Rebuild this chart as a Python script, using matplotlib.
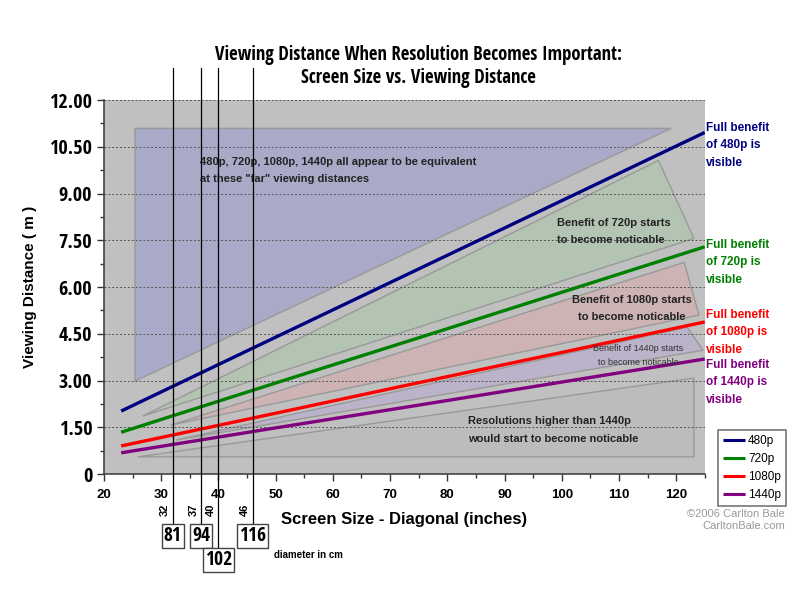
import matplotlib
matplotlib.use("Agg")
import matplotlib.pyplot as plt
from matplotlib.lines import Line2D
from matplotlib.patches import Polygon
from matplotlib import transforms, font_manager

plt.rcParams['font.family'] = ['Liberation Sans', 'DejaVu Sans']


def _weight(f):
    w = f.weight
    return w if isinstance(w, int) else font_manager.weight_dict.get(str(w).lower(), 400)


# use a narrow bold face for the title / big numbers if one is installed
narrow = sorted({f.name for f in font_manager.fontManager.ttflist
                 if ('Narrow' in f.name or 'Condensed' in f.name or f.stretch == 'condensed')
                 and _weight(f) >= 600},
                key=lambda n: 'Liberation' not in n)
NARROW = narrow[:1] + ['Liberation Sans', 'DejaVu Sans']

# screen size (inches) vs viewing distance (m) for full benefit
sizes = [23, 50, 75, 100, 125]
d_480 = [2.02, 4.39, 6.58, 8.77, 10.96]
d_720 = [1.34, 2.92, 4.37, 5.83, 7.29]
d_1080 = [0.90, 1.95, 2.93, 3.90, 4.88]
d_1440 = [0.68, 1.48, 2.21, 2.95, 3.69]

series_names = ['480p', '720p', '1080p', '1440p']
series_colors = ['#000080', '#008000', '#FF0000', '#800080']

# shaded zones (inches, m)
zone_far = [(25.4, 11.09), (119.1, 11.09), (25.4, 2.98)]
zone_720 = [(26.8, 1.86), (116.9, 10.06), (123.1, 7.56)]
zone_1080 = [(31.7, 1.57), (121.4, 6.79), (124.0, 5.10)]
zone_1440 = [(32.6, 1.09), (121.9, 4.71), (124.7, 3.97)]
zone_high = [(25.9, 0.55), (123.1, 3.08), (123.1, 0.55)]

# common TV sizes (inches) and their diagonal in cm
tv_inches = [32, 37, 40, 46]
tv_cm = [81, 94, 102, 116]

y_ticks = [0, 1.5, 3.0, 4.5, 6.0, 7.5, 9.0, 10.5, 12.0]
y_labels = ['0', '1.50', '3.00', '4.50', '6.00', '7.50', '9.00', '10.50', '12.00']
x_ticks = list(range(20, 121, 10))

fig = plt.figure(figsize=(8, 6), dpi=100)
ax = fig.add_axes([0.13, 0.21, 0.751, 0.6233])
ax.set_facecolor('#C0C0C0')
ax.set_xlim(20, 125)
ax.set_ylim(0, 12)

zones = [(zone_far, '#A9A9C8'), (zone_720, '#B3C4B3'), (zone_1080, '#CDB3B3'),
         (zone_1440, '#BBB3C9'), (zone_high, '#BCBCBC')]
for pts, col in zones:
    ax.add_patch(Polygon(pts, closed=True, facecolor=col, edgecolor='#999999', lw=1, zorder=1))

for yv in y_ticks[1:]:
    ax.axhline(yv, color='#555555', lw=0.7, ls=(0, (2, 2)), zorder=2)

all_d = [d_480, d_720, d_1080, d_1440]
for d, name, col in zip(all_d, series_names, series_colors):
    ax.plot(sizes, d, color=col, lw=2.4, label=name, zorder=4, solid_capstyle='butt')

ax.set_yticks(y_ticks)
ax.set_yticklabels(y_labels, fontsize=14.5, fontweight='bold', family=NARROW)
ax.set_yticks([0.75 + 1.5 * i for i in range(8)], minor=True)
ax.set_xticks(x_ticks)
ax.set_xticklabels([str(v) for v in x_ticks], fontsize=9.5, fontweight='bold')
ax.set_xticks(list(range(25, 126, 10)), minor=True)
ax.tick_params(axis='both', which='both', direction='out', color='#333333')
ax.tick_params(axis='both', which='major', length=5, width=1)
ax.tick_params(axis='both', which='minor', length=3, width=1)
ax.tick_params(axis='x', pad=6)
for s in ['top', 'right']:
    ax.spines[s].set_visible(False)
for s in ['left', 'bottom']:
    ax.spines[s].set_color('#444444')
    ax.spines[s].set_linewidth(1.2)

ax.set_ylabel('Viewing Distance ( m )', fontsize=11, fontweight='bold')
ax.yaxis.set_label_coords(-0.111, 0.5)
ax.set_xlabel('Screen Size - Diagonal (inches)', fontsize=12, fontweight='bold', labelpad=8)
fig.text(0.523, 0.889, 'Viewing Distance When Resolution Becomes Important:\nScreen Size vs. Viewing Distance',
         ha='center', va='center', fontsize=13.5, fontweight='bold', family=NARROW, linespacing=1.2)

# zone annotations
ax.text(36.8, 9.74, '480p, 720p, 1080p, 1440p all appear to be equivalent\nat these "far" viewing distances',
        fontsize=8, fontweight='bold', va='center', ha='left', color='#222222', linespacing=1.9, zorder=5)
ax.text(99.2, 7.79, 'Benefit of 720p starts\nto become noticable', fontsize=8, fontweight='bold',
        va='center', ha='left', color='#222222', linespacing=1.9, zorder=5)
ax.text(112.3, 5.32, 'Benefit of 1080p starts\nto become noticable', fontsize=8, fontweight='bold',
        va='center', ha='center', color='#222222', linespacing=1.9, zorder=5)
ax.text(113.4, 3.81, 'Benefit of 1440p starts\nto become noticable', fontsize=6.5,
        va='center', ha='center', color='#333333', linespacing=1.7, zorder=5)
ax.text(83.6, 1.41, 'Resolutions higher than 1440p\nwould start to become noticable', fontsize=8,
        fontweight='bold', va='center', ha='left', color='#222222', linespacing=1.9, zorder=5)

# right-hand labels
right_tops = [0.797, 0.6017, 0.485, 0.4017]
for name, col, yt in zip(series_names, series_colors, right_tops):
    fig.text(0.8825, yt, 'Full benefit\nof %s is\nvisible' % name, color=col, fontsize=8.5,
             fontweight='bold', va='top', ha='left', linespacing=1.6)

leg = ax.legend(loc='upper left', bbox_to_anchor=(0.8975, 0.2833), bbox_transform=fig.transFigure,
                fontsize=8.5, frameon=True, fancybox=False, handlelength=1.8, handletextpad=0.3,
                borderpad=0.45, labelspacing=0.5, borderaxespad=0)
leg.get_frame().set_edgecolor('#555555')
leg.get_frame().set_linewidth(1.2)
for h in leg.get_lines():
    h.set_linewidth(2.2)

fig.text(0.981, 0.134, '\u00a92006 Carlton Bale\nCarltonBale.com', ha='right', va='center',
         fontsize=8, color='#999999', linespacing=1.25)

# TV size markers: vertical lines with inch and cm labels
trans = transforms.blended_transform_factory(ax.transData, fig.transFigure)
for inch, cm in zip(tv_inches, tv_cm):
    low = inch == 40
    y_bottom = 0.0833 if low else 0.125
    y_box = 0.0667 if low else 0.1067
    fig.add_artist(Line2D([inch, inch], [0.8867, y_bottom], transform=trans, color='black', lw=0.9))
    fig.text(inch - 1.3, 0.15, str(inch), transform=trans, rotation=90, ha='center', va='center',
             fontsize=8, fontweight='bold')
    fig.text(inch, y_box, str(cm), transform=trans, ha='center', va='center', fontsize=14,
             fontweight='bold', family=NARROW,
             bbox=dict(boxstyle='square,pad=0.1', facecolor='white', edgecolor='#444444', lw=1))
fig.text(0.3425, 0.075, 'diameter in cm', fontsize=7, fontweight='bold', ha='left', va='center')

fig.savefig('out.png', dpi=100, facecolor='white')
